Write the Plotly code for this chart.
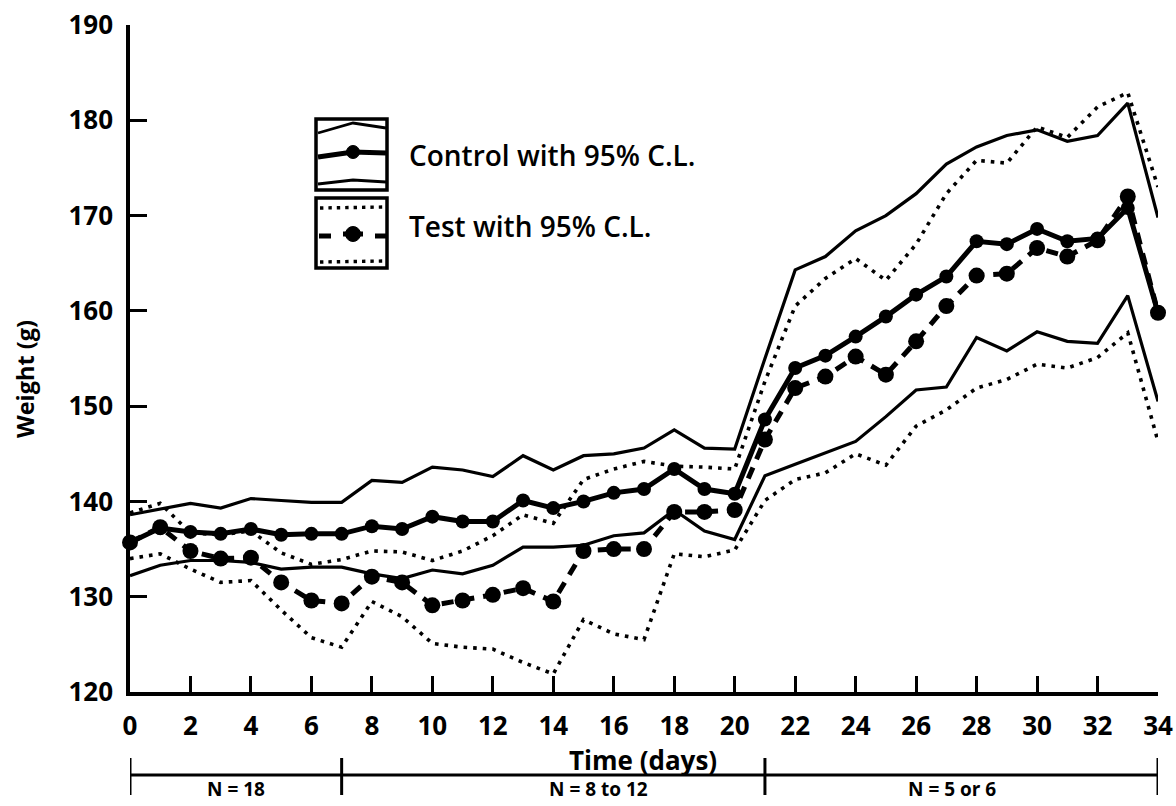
import plotly.graph_objects as go

days = list(range(35))

control_mean = [135.7, 137.2, 136.8, 136.6, 137.1, 136.5, 136.6, 136.6, 137.4, 137.1,
                138.4, 137.9, 137.9, 140.1, 139.3, 140.0, 140.9, 141.3, 143.4, 141.3,
                140.8, 148.6, 154.0, 155.3, 157.3, 159.4, 161.7, 163.6, 167.3, 167.0,
                168.6, 167.3, 167.6, 170.8, 159.8]
control_upper = [138.6, 139.2, 139.8, 139.3, 140.3, 140.1, 139.9, 139.9, 142.2, 142.0,
                 143.6, 143.3, 142.6, 144.8, 143.3, 144.8, 145.0, 145.6, 147.5, 145.6,
                 145.5, 155.0, 164.3, 165.7, 168.4, 170.0, 172.3, 175.4, 177.2, 178.4,
                 179.0, 177.8, 178.4, 181.8, 169.8]
control_lower = [132.2, 133.3, 133.8, 133.8, 133.6, 132.9, 133.1, 133.1, 132.4, 131.9,
                 132.8, 132.4, 133.3, 135.2, 135.2, 135.4, 136.4, 136.7, 139.1, 136.9,
                 136.0, 142.7, 143.9, 145.1, 146.3, 148.9, 151.7, 152.0, 157.2, 155.8,
                 157.8, 156.8, 156.6, 161.6, 150.5]
test_mean = [135.7, 137.3, 134.8, 134.0, 134.1, 131.5, 129.6, 129.3, 132.1, 131.5,
             129.1, 129.6, 130.2, 130.9, 129.5, 134.8, 135.0, 135.0, 138.9, 138.9,
             139.1, 146.5, 151.9, 153.1, 155.2, 153.3, 156.8, 160.5, 163.7, 163.9,
             166.6, 165.7, 167.4, 172.0, 159.8]
test_upper = [138.8, 139.8, 136.7, 136.5, 136.9, 134.6, 133.4, 133.9, 134.8, 134.7,
              133.8, 134.8, 136.4, 138.6, 137.7, 142.3, 143.4, 144.2, 143.7, 143.6,
              143.4, 152.6, 160.5, 163.4, 165.5, 163.2, 167.0, 172.3, 175.8, 175.5,
              179.3, 178.2, 181.4, 182.9, 173.0]
test_lower = [134.0, 134.5, 132.9, 131.5, 131.7, 128.6, 125.7, 124.7, 129.5, 127.9,
              125.1, 124.7, 124.5, 123.1, 121.9, 127.6, 126.1, 125.5, 134.5, 134.2,
              134.9, 140.1, 142.3, 143.0, 145.0, 143.8, 147.9, 149.6, 151.9, 152.8,
              154.4, 154.0, 155.1, 157.7, 146.3]

x_ticks = list(range(0, 35, 2))
y_ticks = list(range(120, 191, 10))

n_bounds = [0, 7, 21, 34]
n_labels = ["N = 18", "N = 8 to 12", "N = 5 or 6"]
n_label_x = [3.5, 15.5, 27.2]

legend_labels = ["Control with 95% C.L.", "Test with 95% C.L."]

FONT = "Open Sans"
BLACK = "#000000"

FIG_W, FIG_H = 1176, 806
L, R, T, B = 130, 1158, 25, 692


def px(x):
    return (x - L) / (R - L)


def py(y):
    return (B - y) / (B - T)


fig = go.Figure()

ci_w = 3.2
fig.add_trace(go.Scatter(x=days, y=control_upper, mode="lines",
                         line=dict(color=BLACK, width=ci_w), cliponaxis=False,
                         showlegend=False))
fig.add_trace(go.Scatter(x=days, y=control_lower, mode="lines",
                         line=dict(color=BLACK, width=ci_w), cliponaxis=False,
                         showlegend=False))
fig.add_trace(go.Scatter(x=days, y=test_upper, mode="lines",
                         line=dict(color=BLACK, width=3.6, dash="3.6px,6px"),
                         cliponaxis=False, showlegend=False))
fig.add_trace(go.Scatter(x=days, y=test_lower, mode="lines",
                         line=dict(color=BLACK, width=3.6, dash="3.6px,6px"),
                         cliponaxis=False, showlegend=False))
fig.add_trace(go.Scatter(x=days, y=test_mean, mode="lines+markers",
                         line=dict(color=BLACK, width=5, dash="12px,9px"),
                         marker=dict(color=BLACK, size=16),
                         cliponaxis=False, showlegend=False))
fig.add_trace(go.Scatter(x=days, y=control_mean, mode="lines+markers",
                         line=dict(color=BLACK, width=5),
                         marker=dict(color=BLACK, size=14),
                         cliponaxis=False, showlegend=False))

shapes = []
annotations = []

# N brackets under the axis
yb = py(775)
shapes.append(dict(type="line", xref="x", yref="paper", x0=n_bounds[0], x1=n_bounds[-1],
                   y0=yb, y1=yb, line=dict(color=BLACK, width=3)))
for b in n_bounds:
    shapes.append(dict(type="line", xref="x", yref="paper", x0=b, x1=b,
                       y0=py(758), y1=py(795), line=dict(color=BLACK, width=3)))
for lab, xc in zip(n_labels, n_label_x):
    annotations.append(dict(text=lab, x=xc, xref="x", y=py(789), yref="paper",
                            showarrow=False, xanchor="center", yanchor="middle",
                            font=dict(family=FONT, size=19, color=BLACK, weight="bold")))

# axis titles
annotations.append(dict(text="Time (days)", x=px(643), xref="paper", y=py(760), yref="paper",
                        showarrow=False, xanchor="center", yanchor="middle",
                        font=dict(family=FONT, size=26, color=BLACK, weight="bold")))
annotations.append(dict(text="Weight (g)", x=px(25), xref="paper", y=py(379), yref="paper",
                        showarrow=False, xanchor="center", yanchor="middle", textangle=-90,
                        font=dict(family=FONT, size=23.5, color=BLACK, weight="bold")))


# custom legend
def pline(points, width, dash="solid"):
    path = "M " + " L ".join(f"{px(a):.5f},{py(b):.5f}" for a, b in points)
    return dict(type="path", xref="paper", yref="paper", path=path,
                line=dict(color=BLACK, width=width, dash=dash))


def dot(cx, cy, r):
    return dict(type="circle", xref="paper", yref="paper",
                x0=px(cx - r), x1=px(cx + r), y0=py(cy + r), y1=py(cy - r),
                fillcolor=BLACK, line=dict(color=BLACK, width=1))


for y0, y1 in [(119, 190), (198, 268)]:
    shapes.append(dict(type="rect", xref="paper", yref="paper",
                       x0=px(316), x1=px(387), y0=py(y1), y1=py(y0),
                       line=dict(color=BLACK, width=3.5)))
shapes.append(pline([(318, 133), (353, 123), (386, 128)], 2.8))
shapes.append(pline([(318, 157), (353, 152), (386, 153)], 5))
shapes.append(dot(353, 152, 6.5))
shapes.append(pline([(318, 184), (353, 180), (386, 182)], 2.8))
shapes.append(pline([(320, 208), (385, 207)], 3.4, "3.4px,5px"))
shapes.append(pline([(319, 236), (331, 236)], 5))
shapes.append(pline([(343, 234), (363, 234)], 5))
shapes.append(dot(353, 234, 7.5))
shapes.append(pline([(375, 236), (386, 236)], 5))
shapes.append(pline([(320, 262), (385, 261)], 3.4, "3.4px,5px"))

for lab, yc in zip(legend_labels, [155, 226]):
    annotations.append(dict(text=lab, x=px(407), xref="paper", y=py(yc), yref="paper",
                            showarrow=False, xanchor="left", yanchor="middle",
                            font=dict(family=FONT, size=28, color=BLACK, weight=600)))

axis_common = dict(automargin=False, showgrid=False, zeroline=False, showline=True,
                   linecolor=BLACK, linewidth=3.5, ticks="inside", tickwidth=3,
                   tickcolor=BLACK, ticklabelstandoff=8, ticklabeloverflow="allow",
                   tickfont=dict(family=FONT, size=26, color=BLACK, weight="bold"))

fig.update_layout(
    width=FIG_W, height=FIG_H,
    margin=dict(l=L, r=FIG_W - R, t=T, b=FIG_H - B, pad=0),
    paper_bgcolor="white", plot_bgcolor="white",
    showlegend=False,
    shapes=shapes, annotations=annotations,
    font=dict(family=FONT, color=BLACK),
    xaxis=dict(range=[0, 34], tickvals=x_ticks, ticktext=[str(v) for v in x_ticks],
               ticklen=16, **axis_common),
    yaxis=dict(range=[120, 190], tickvals=y_ticks, ticktext=[str(v) for v in y_ticks],
               ticklen=17, **axis_common),
)

fig.write_html("out.html",
               config={"displayModeBar": False},
               post_script="document.body.style.margin='0';"
                           "document.body.style.overflow='hidden';")
